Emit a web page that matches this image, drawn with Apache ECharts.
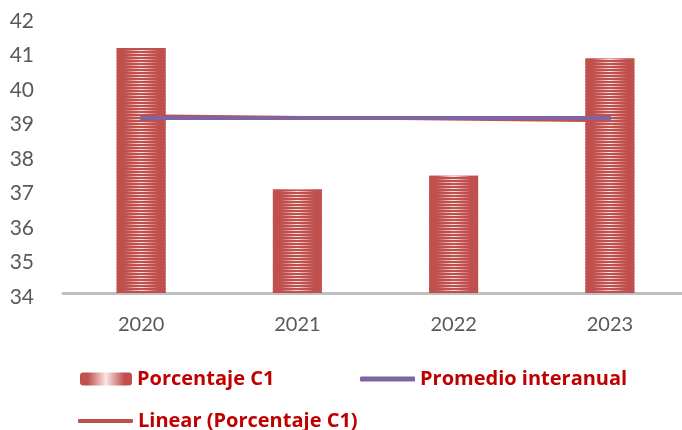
<!DOCTYPE html>
<html>
<head>
<meta charset="utf-8">
<script src="https://cdn.jsdelivr.net/npm/echarts@6/dist/echarts.min.js"></script>
<style>
    html, body { margin: 0; padding: 0; background: #fff; overflow: hidden; }
    #chart { width: 688px; height: 430px; }
</style>
</head>
<body>
<div id="chart"></div>
<script>
    var years = ['2020', '2021', '2022', '2023'];
    var porcentajeC1 = [41.1, 37.0, 37.4, 40.8];
    var promedio = [39.07, 39.07, 39.07, 39.07];
    // linea de tendencia: solo extremos
    var tendencia = [39.14, null, null, 38.99];

    var rojo = '#C0504D';
    var morado = '#8064A2';
    var fuente = 'Lato, "Open Sans", sans-serif';
    var fuenteLeyenda = '"Open Sans", Lato, sans-serif';

    // rayado horizontal de las barras
    var rayas = document.createElement('canvas');
    rayas.width = 4;
    rayas.height = 3;
    var ctx = rayas.getContext('2d');
    ctx.fillStyle = rojo;
    ctx.fillRect(0, 0, 4, 2);

    var fondoBarra = new echarts.graphic.LinearGradient(0, 0, 1, 0, [
        {offset: 0, color: rojo},
        {offset: 0.15, color: rojo},
        {offset: 0.5, color: '#FBE6E5'},
        {offset: 0.85, color: rojo},
        {offset: 1, color: rojo}
    ]);

    var textoLeyenda = {color: '#C00000', fontWeight: 'bold', fontSize: 20, fontFamily: fuenteLeyenda};

    var chart = echarts.init(document.getElementById('chart'));

    var option = {
        animation: false,
        grid: {
            left: 63,
            right: 0,
            top: 17,
            bottom: 137
        },
        legend: [{
            left: 80,
            top: 369,
            padding: 0,
            itemWidth: 52,
            itemHeight: 13,
            textStyle: textoLeyenda,
            data: ['Porcentaje C1']
        }, {
            left: 360,
            top: 369,
            padding: 0,
            itemWidth: 55,
            itemHeight: 5,
            textStyle: textoLeyenda,
            data: [{name: 'Promedio interanual', icon: 'roundRect'}]
        }, {
            left: 78,
            top: 411,
            padding: 0,
            itemWidth: 55,
            itemHeight: 4,
            textStyle: textoLeyenda,
            data: [{name: 'Linear (Porcentaje C1)', icon: 'roundRect'}]
        }],
        xAxis: {
            type: 'category',
            data: years,
            axisLine: {lineStyle: {color: '#BFBFBF', width: 3}},
            axisTick: {show: false},
            axisLabel: {
                color: '#595959',
                fontSize: 20,
                fontFamily: fuente,
                margin: 22
            }
        },
        yAxis: {
            type: 'value',
            min: 34,
            max: 42,
            interval: 1,
            axisLine: {show: false},
            axisTick: {show: false},
            splitLine: {show: false},
            axisLabel: {
                color: '#595959',
                fontSize: 21,
                fontFamily: fuente,
                margin: 29,
                verticalAlign: 'top',
                lineHeight: 8
            }
        },
        series: [{
            name: 'Porcentaje C1',
            type: 'bar',
            barWidth: 49,
            data: porcentajeC1,
            itemStyle: {color: fondoBarra}
        }, {
            name: 'rayado',
            type: 'bar',
            barWidth: 49,
            barGap: '-100%',
            data: porcentajeC1,
            itemStyle: {color: {image: rayas, repeat: 'repeat'}}
        }, {
            name: 'Linear (Porcentaje C1)',
            type: 'line',
            data: tendencia,
            connectNulls: true,
            symbol: 'none',
            itemStyle: {color: rojo},
            lineStyle: {color: rojo, width: 3}
        }, {
            name: 'Promedio interanual',
            type: 'line',
            data: promedio,
            symbol: 'none',
            itemStyle: {color: morado},
            lineStyle: {color: morado, width: 4, cap: 'round'}
        }]
    };

    chart.setOption(option);
</script>
</body>
</html>
